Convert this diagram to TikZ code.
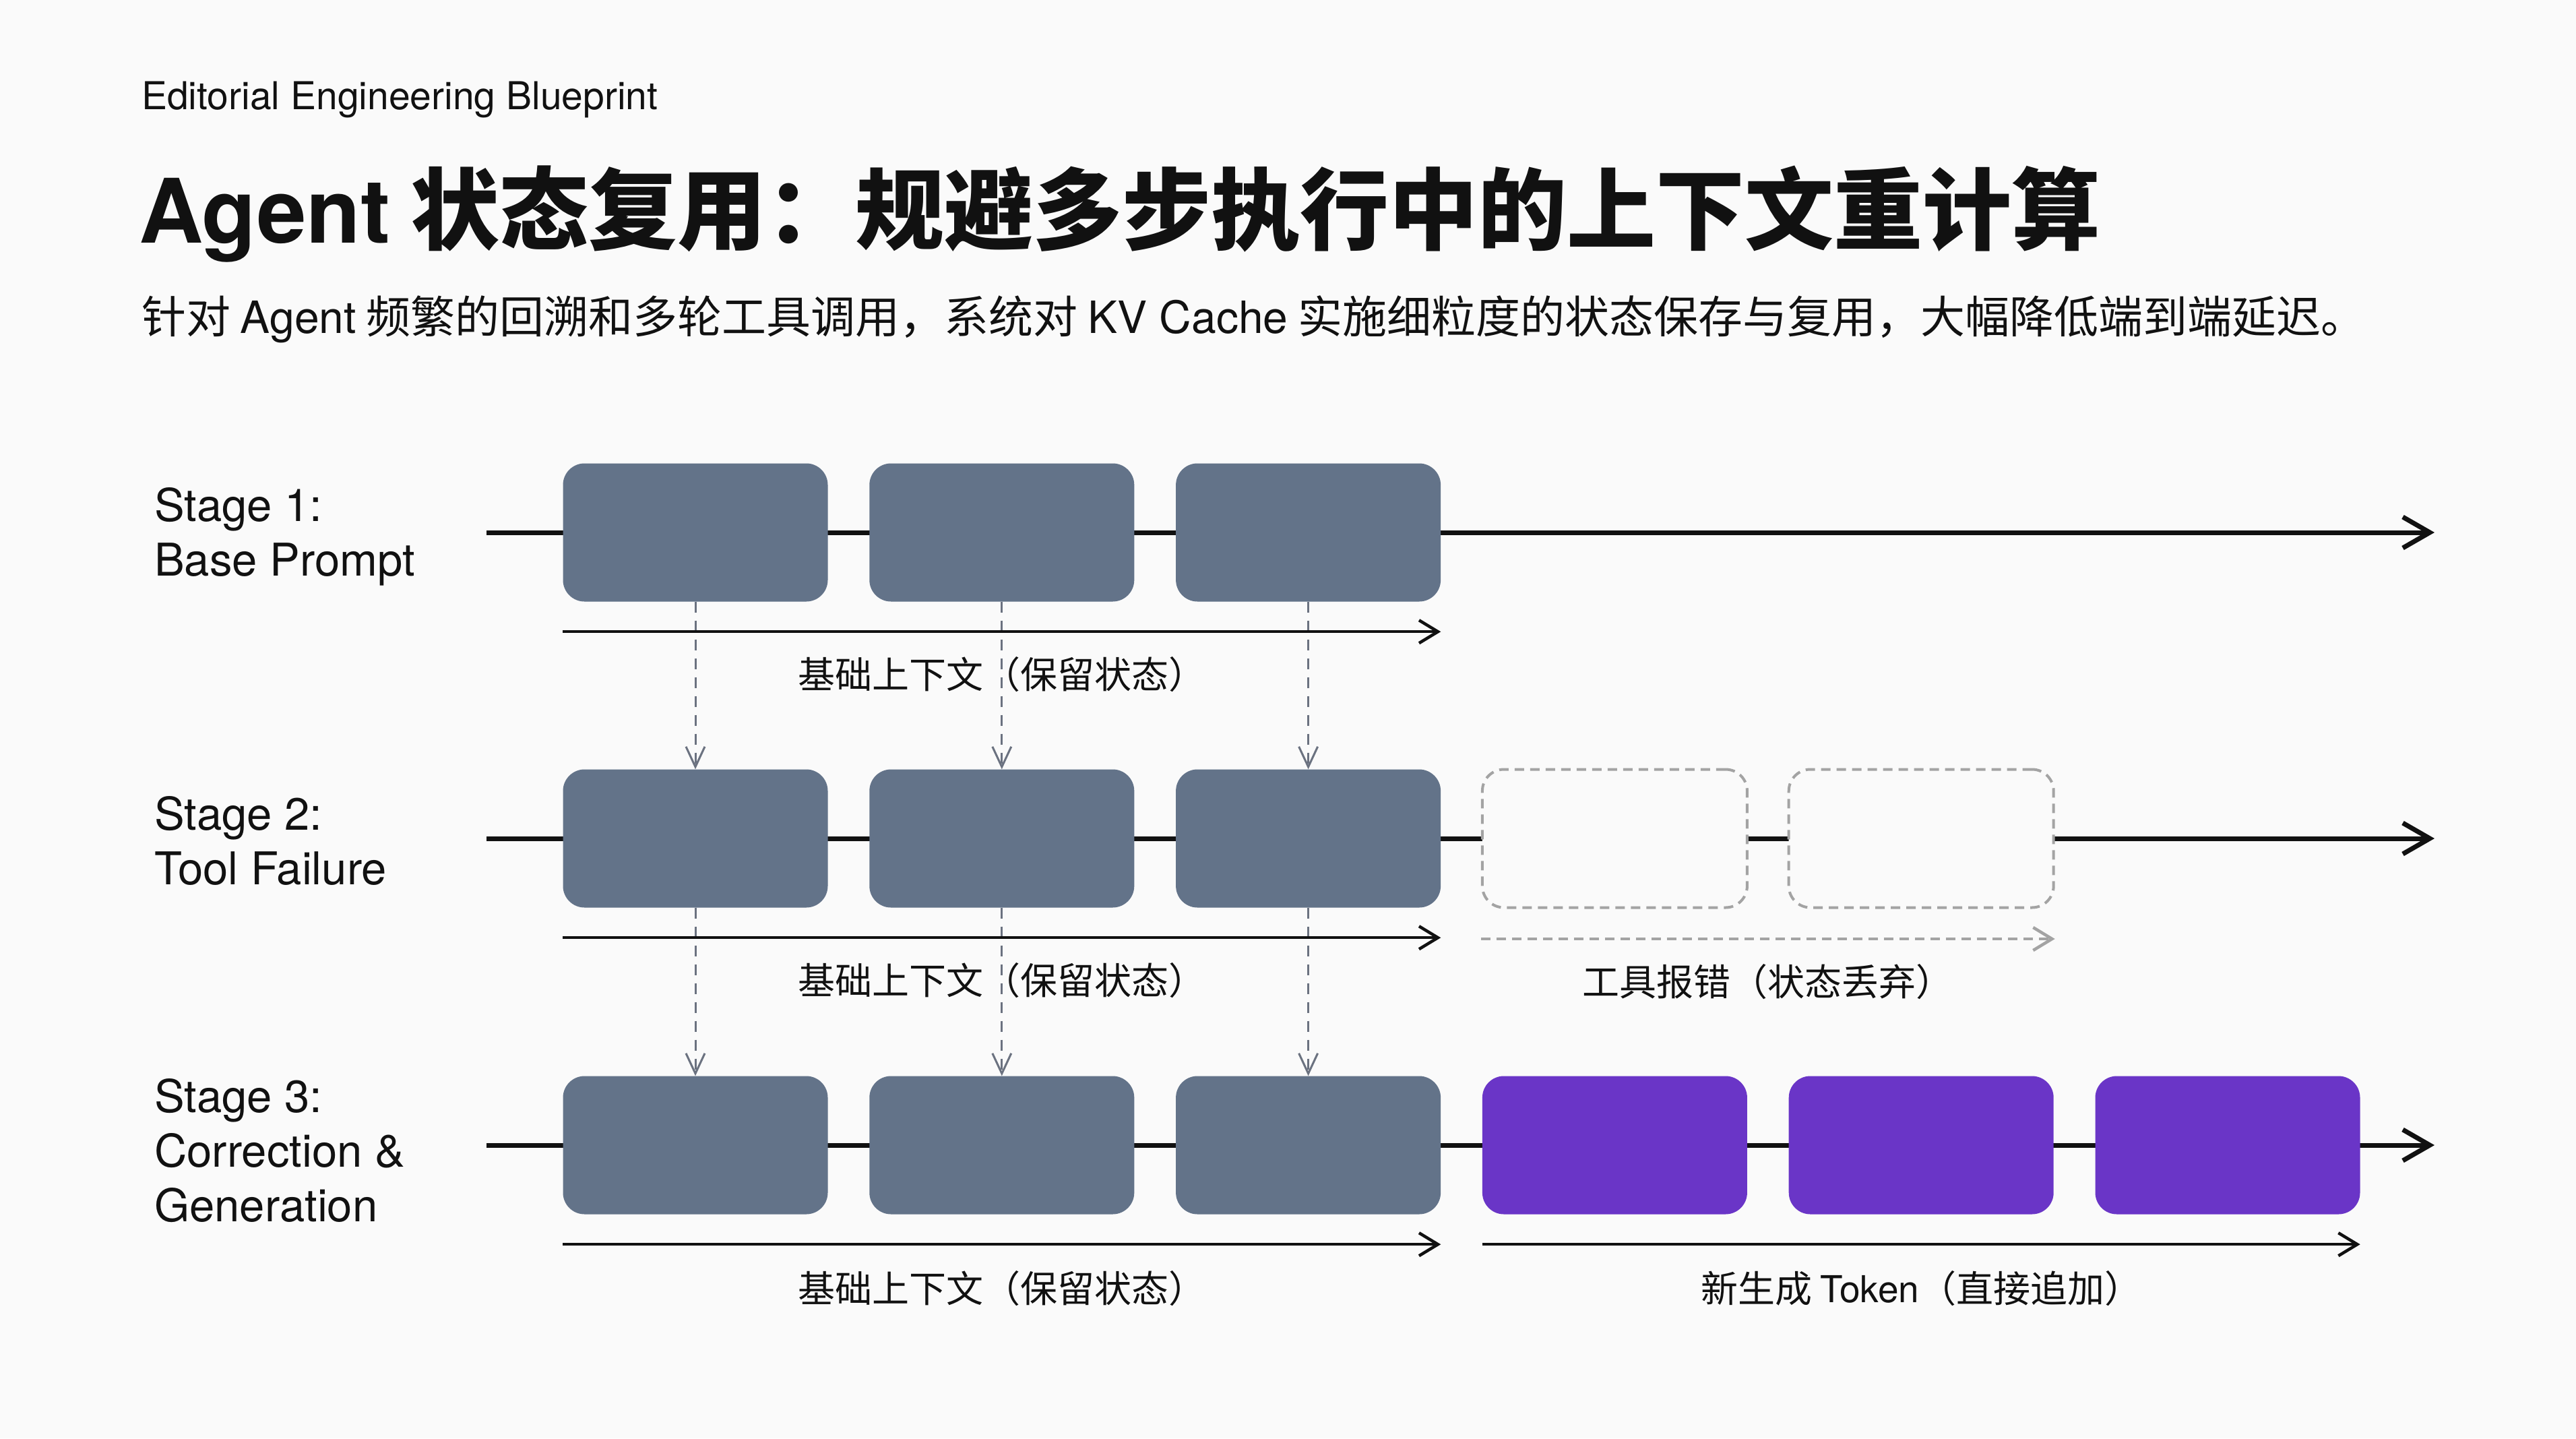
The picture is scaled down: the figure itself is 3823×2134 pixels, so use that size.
\documentclass[tikz,border=0pt]{standalone}
\usepackage{fontspec}
\setmainfont{Noto Sans CJK SC}
\newfontfamily\lat{TeX Gyre Heros}
\usetikzlibrary{arrows.meta,calc}
\definecolor{slate}{HTML}{637389}
\definecolor{violetbox}{HTML}{6A35C7}
\definecolor{bg}{HTML}{FAFAFA}
\definecolor{ink}{HTML}{111111}
\definecolor{dashgray}{HTML}{6B7280}
\definecolor{ghost}{HTML}{A3A3A3}
\tikzset{
 tok/.style={rounded corners=32pt, minimum width=393pt, minimum height=205pt, inner sep=0pt},
 kept/.style={tok, fill=slate},
 gen/.style={tok, fill=violetbox},
 ghostbox/.style={tok, fill=bg, draw=ghost, line width=4pt, dash pattern=on 14pt off 9pt},
 timeline/.style={draw=ink, line width=7pt, -{Straight Barb[length=40pt,width=46pt]}},
 ctx/.style={draw=ink, line width=4.5pt, -{Straight Barb[length=28pt,width=34pt]}},
 ghostctx/.style={draw=ghost, line width=4.5pt, dash pattern=on 14pt off 9pt, -{Straight Barb[length=28pt,width=34pt]}},
 reuse/.style={draw=dashgray, line width=3pt, dash pattern=on 16pt off 12pt, -{Straight Barb[length=30pt,width=28pt]}},
 stagelbl/.style={anchor=west, align=left, font=\lat\fontsize{67}{81}\selectfont, inner sep=0pt, text=ink},
 ctxlbl/.style={anchor=base, font=\fontsize{55}{66}\selectfont, inner sep=0pt, text=ink},
}
\begin{document}
\begin{tikzpicture}[x=1pt,y=-1pt]
\useasboundingbox (0,0) rectangle (3823,2134);
\fill[bg] (0,0) rectangle (3823,2134);

% header
\node[anchor=base west, inner sep=0pt, text=ink, font=\lat\fontsize{57}{68}\selectfont] (kicker) at (210,162) {Editorial Engineering Blueprint};
\node[anchor=base west, inner sep=0pt, text=ink, font=\bfseries\fontsize{132}{150}\selectfont] (title) at (206,360) {{\lat\bfseries Agent} 状态复用：规避多步执行中的上下文重计算};
\node[anchor=base west, inner sep=0pt, text=ink, font=\fontsize{66}{78}\selectfont] (subtitle) at (210,494) {针对 {\lat Agent} 频繁的回溯和多轮工具调用，系统对 {\lat KV Cache} 实施细粒度的状态保存与复用，大幅降低端到端延迟。};

% stage labels
\node[stagelbl] (st1) at (229,796) {Stage 1:\\Base Prompt};
\node[stagelbl] (st2) at (229,1247) {Stage 2:\\Tool Failure};
\node[stagelbl] (st3) at (229,1707) {Stage 3:\\Correction \&\\Generation};

% timelines
\coordinate (s1) at (722,790);  \coordinate (e1) at (3613,790);
\coordinate (s2) at (722,1244); \coordinate (e2) at (3613,1244);
\coordinate (s3) at (722,1699); \coordinate (e3) at (3613,1699);
\draw[timeline] (s1) -- (e1);
\draw[timeline] (s2) -- (e2);
\draw[timeline] (s3) -- (e3);

% tokens
\foreach \c in {1,2,3} {
  \node[kept] (b1\c) at ({1032+454.8*(\c-1)},790) {};
  \node[kept] (b2\c) at ({1032+454.8*(\c-1)},1244) {};
  \node[kept] (b3\c) at ({1032+454.8*(\c-1)},1699) {};
}
\foreach \c in {4,5} {
  \node[ghostbox] (b2\c) at ({1032+454.8*(\c-1)},1244) {};
}
\foreach \c in {4,5,6} {
  \node[gen] (b3\c) at ({1032+454.8*(\c-1)},1699) {};
}

% reuse arrows
\foreach \c in {1,2,3} {
  \draw[reuse] (b1\c.south) -- (b2\c.north);
  \draw[reuse] (b2\c.south) -- (b3\c.north);
}

% context arrows
\draw[ctx] ([yshift=-44.5pt]b11.south west) -- ([yshift=-44.5pt]b13.south east);
\draw[ctx] ([yshift=-44.5pt]b21.south west) -- ([yshift=-44.5pt]b23.south east);
\draw[ghostctx] ([yshift=-44.5pt]b24.south west) -- ([yshift=-44.5pt]b25.south east);
\draw[ctx] ([yshift=-44.5pt]b31.south west) -- ([yshift=-44.5pt]b33.south east);
\draw[ctx] ([yshift=-44.5pt]b34.south west) -- ([yshift=-44.5pt]b36.south east);

% context labels
\node[ctxlbl] (l1) at ([yshift=-129pt]b12.south) {基础上下文（保留状态）};
\node[ctxlbl] (l2) at ([yshift=-129pt]b22.south) {基础上下文（保留状态）};
\node[ctxlbl] (l2g) at ($([yshift=-129pt]b24.south)!0.5!([yshift=-129pt]b25.south)$) {工具报错（状态丢弃）};
\node[ctxlbl] (l3) at ([yshift=-131pt]b32.south) {基础上下文（保留状态）};
\node[ctxlbl] (l3g) at ([yshift=-131pt]b35.south) {新生成 {\lat Token}（直接追加）};
\end{tikzpicture}
\end{document}
